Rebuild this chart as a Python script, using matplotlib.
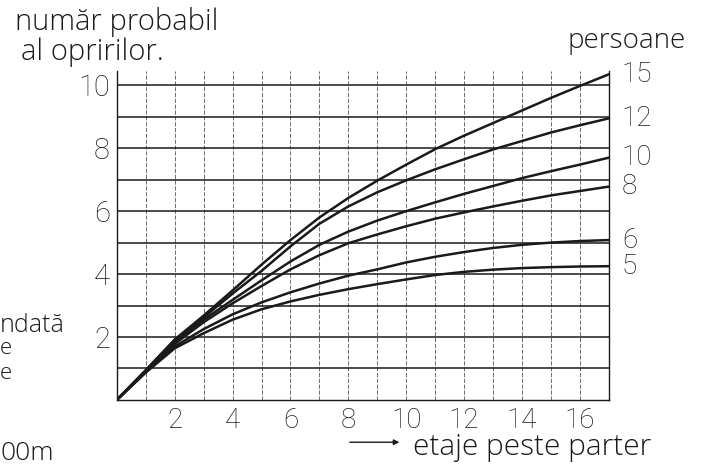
import matplotlib
matplotlib.use("Agg")
import matplotlib.pyplot as plt
from matplotlib.patches import FancyArrowPatch

plt.rcParams["font.family"] = ["Roboto", "DejaVu Sans"]
plt.rcParams["font.weight"] = "light"
WORDS = ["Open Sans", "DejaVu Sans"]

# etaje peste parter (floors above ground floor)
floors = list(range(0, 18))

# probable number of stops, one list per car load
stops_15 = [0, 0.95, 1.92, 2.68, 3.48, 4.30, 5.08, 5.80, 6.42, 6.97, 7.48, 7.97, 8.40, 8.80, 9.20, 9.60, 9.98, 10.35]
stops_12 = [0, 0.93, 1.88, 2.62, 3.38, 4.10, 4.88, 5.60, 6.15, 6.60, 6.98, 7.33, 7.65, 7.96, 8.23, 8.50, 8.73, 8.95]
stops_10 = [0, 0.92, 1.84, 2.55, 3.18, 3.80, 4.40, 4.93, 5.35, 5.70, 6.00, 6.28, 6.55, 6.80, 7.05, 7.27, 7.48, 7.70]
stops_8 = [0, 0.90, 1.78, 2.47, 3.07, 3.62, 4.15, 4.60, 4.98, 5.26, 5.52, 5.76, 5.96, 6.15, 6.33, 6.50, 6.64, 6.78]
stops_6 = [0, 0.88, 1.70, 2.25, 2.72, 3.10, 3.42, 3.70, 3.95, 4.15, 4.37, 4.55, 4.70, 4.83, 4.93, 5.00, 5.05, 5.08]
stops_5 = [0, 0.87, 1.64, 2.12, 2.55, 2.88, 3.13, 3.34, 3.52, 3.68, 3.83, 3.97, 4.07, 4.14, 4.19, 4.22, 4.24, 4.25]

series = [("15", stops_15), ("12", stops_12), ("10", stops_10),
          ("8", stops_8), ("6", stops_6), ("5", stops_5)]

x_ticks = [2, 4, 6, 8, 10, 12, 14, 16]
y_ticks = [2, 4, 6, 8, 10]

ink = "#1a1a1a"

fig = plt.figure(figsize=(7.08, 4.65), dpi=100)
ax = fig.add_axes([0.165, 0.140, 0.695, 0.707])
ax.set_xlim(0, 17)
ax.set_ylim(0, 10.45)

# grid: dashed verticals, solid horizontals
for gx in range(1, 17):
    ax.axvline(gx, color=ink, lw=0.6, ls=(0, (5, 2)), alpha=0.75, zorder=1)
for gy in range(1, 11):
    ax.axhline(gy, color=ink, lw=1.1, zorder=1)

for name, vals in series:
    ax.plot(floors, vals, color=ink, lw=1.8, solid_capstyle="round", zorder=3)
    ax.text(17.45, vals[-1], name, fontsize=20, color=ink,
            ha="left", va="center", clip_on=False)

ax.spines["top"].set_visible(False)
for side in ["left", "bottom", "right"]:
    ax.spines[side].set_color(ink)
    ax.spines[side].set_linewidth(1.0)

ax.set_xticks(x_ticks)
ax.set_yticks(y_ticks)
ax.set_xticklabels([str(v) for v in x_ticks], fontsize=20, color=ink)
ax.set_yticklabels([str(v) for v in y_ticks], fontsize=21, color=ink)
ax.tick_params(length=0, pad=5)

fig.text(0.021, 0.936, "număr probabil", fontsize=21, family=WORDS, color=ink, ha="left", va="baseline")
fig.text(0.030, 0.872, "al opririlor.", fontsize=21, family=WORDS, color=ink, ha="left", va="baseline")
fig.text(0.802, 0.897, "persoane", fontsize=20, family=WORDS, color=ink, ha="left", va="baseline")

fig.text(0.584, 0.022, "etaje peste parter", fontsize=21.5, family=WORDS, color=ink, ha="left", va="baseline")
fig.add_artist(FancyArrowPatch(
    (0.490, 0.049), (0.568, 0.049), transform=fig.transFigure,
    arrowstyle="-|>", mutation_scale=8, color=ink, lw=1.0))

# text cut off at the left edge of the scan
fig.text(0.0, 0.286, "ndată", fontsize=18, family=WORDS, color=ink, ha="left", va="baseline")
fig.text(0.0, 0.238, "e", fontsize=16, family=WORDS, color=ink, ha="left", va="baseline")
fig.text(0.0, 0.186, "e", fontsize=16, family=WORDS, color=ink, ha="left", va="baseline")
fig.text(0.0, 0.011, "00m", fontsize=19, family=WORDS, color=ink, ha="left", va="baseline")

fig.savefig("out.png", dpi=100)
